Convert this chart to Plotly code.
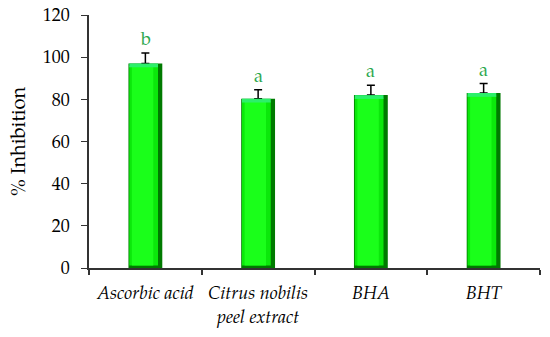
import plotly.graph_objects as go

categories = ["<i>Ascorbic acid</i>", "<i>Citrus nobilis<br>peel extract</i>", "<i>BHA</i>", "<i>BHT</i>"]
values = [97.0, 80.3, 82.0, 83.0]
errors = [5.0, 4.3, 4.7, 4.5]
letters = ["b", "a", "a", "a"]
yticks = [0, 20, 40, 60, 80, 100, 120]

FONT = "Palatino Linotype, Book Antiqua, Palatino, TeX Gyre Pagella, DejaVu Serif, serif"
x = list(range(len(categories)))

fig = go.Figure()
# dark body (edges)
fig.add_trace(go.Bar(x=x, y=values, width=0.30, offset=-0.15,
                     marker=dict(color="#007a00", line=dict(width=0)),
                     error_y=dict(type="data", symmetric=False, array=errors,
                                  arrayminus=[0]*len(errors), color="black",
                                  thickness=1.5, width=4),
                     hoverinfo="skip", showlegend=False))
# bright face
bevel = 1.2
fig.add_trace(go.Bar(x=x, y=[v - 2 * bevel for v in values], base=[bevel]*len(values),
                     width=0.255, offset=-0.143,
                     marker=dict(color="#0be80b", line=dict(width=0)),
                     hoverinfo="skip", showlegend=False))
# middle highlight
fig.add_trace(go.Bar(x=x, y=[v - 2 * bevel for v in values], base=[bevel]*len(values),
                     width=0.19, offset=-0.12,
                     marker=dict(color="#1aff1a", line=dict(width=0)),
                     hoverinfo="skip", showlegend=False))
# top bevel highlight
fig.add_trace(go.Bar(x=x, y=[bevel * 1.5]*len(values), base=[v - bevel * 1.5 for v in values],
                     width=0.255, offset=-0.143,
                     marker=dict(color="#2cf06a", line=dict(width=0)),
                     hoverinfo="skip", showlegend=False))

for xi, v, e, t in zip(x, values, errors, letters):
    fig.add_annotation(x=xi, y=v + e, text=t, showarrow=False, yanchor="bottom",
                       yshift=1, font=dict(family=FONT, size=18, color="#2ea84e"))

fig.update_layout(
    width=550, height=337, barmode="overlay",
    margin=dict(l=81, r=18, t=7, b=77),
    plot_bgcolor="white", paper_bgcolor="white",
    font=dict(family=FONT, size=18, color="black"),
)
fig.update_xaxes(tickvals=x, ticktext=categories, range=[-0.5, 3.5], automargin=False,
                 showline=True, linecolor="#333", linewidth=1.5,
                 ticks="", showgrid=False, zeroline=False, ticklabelstandoff=8,
                 tickfont=dict(family=FONT, size=18),
                 minor=dict(tickvals=[-0.5, 0.5, 1.5, 2.5, 3.5], ticks="outside",
                            ticklen=5, tickcolor="#333", tickwidth=1.5))
fig.update_yaxes(range=[0, 120], tickvals=yticks, showline=True, linecolor="#333",
                 linewidth=1.5, ticks="outside", ticklen=6, tickcolor="#333",
                 showgrid=False, zeroline=False, automargin=False, ticklabelstandoff=8,
                 title=dict(text="% Inhibition", font=dict(family=FONT, size=20), standoff=12),
                 tickfont=dict(family=FONT, size=18))

fig.write_html("out.html")
